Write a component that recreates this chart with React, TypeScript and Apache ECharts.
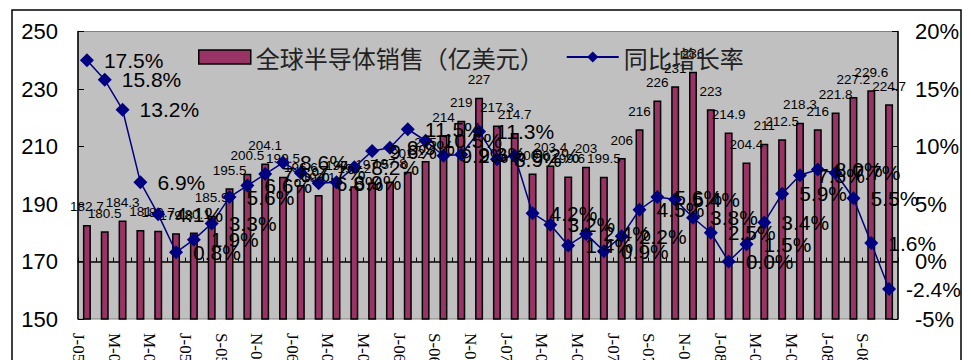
import React, { useEffect, useRef } from "react";
import * as echarts from "echarts";

const CATEGORIES = [
  "J-05", "F-05", "M-05", "A-05", "M-05", "J-05", "J-05", "A-05", "S-05", "O-05", "N-05", "D-05",
  "J-06", "F-06", "M-06", "A-06", "M-06", "J-06", "J-06", "A-06", "S-06", "O-06", "N-06", "D-06",
  "J-07", "F-07", "M-07", "A-07", "M-07", "J-07", "J-07", "A-07", "S-07", "O-07", "N-07", "D-07",
  "J-08", "F-08", "M-08", "A-08", "M-08", "J-08", "J-08", "A-08", "S-08", "O-08",
];

const SALES = [
  182.7, 180.5, 184.3, 181.0, 180.7, 179.8, 180.1, 185.9, 195.5, 200.5, 204.1, 199.5,
  196.6, 193.1, 197.0, 196.2, 197.5, 197.8, 201.2, 205, 214, 219, 227, 217.3,
  214.7, 200.6, 203.4, 199.6, 203, 199.5, 206, 216, 226, 231, 236, 223,
  214.9, 204.4, 211, 212.5, 218.3, 216, 221.8, 227.2, 229.6, 224.7,
];

const GROWTH = [
  17.5, 15.8, 13.2, 6.9, 4.1, 0.8, 1.9, 3.3, 5.6, 6.6, 7.6, 8.6,
  7.7, 6.8, 6.9, 8.2, 9.6, 9.9, 11.5, 10.5, 9.2, 9.3, 11.3, 8.9,
  9.2, 4.2, 3.2, 1.4, 2.4, 0.9, 2.2, 4.5, 5.6, 5.4, 3.8, 2.5,
  0.0, 1.5, 3.4, 5.9, 7.5, 8.0, 7.7, 5.5, 1.6, -2.4,
];

const SALES_NAME = "全球半导体销售（亿美元）";
const GROWTH_NAME = "同比增长率";

const SANS = "'Liberation Sans', Arial, sans-serif";

export default function App() {
  const ref = useRef<HTMLDivElement>(null);

  useEffect(() => {
    if (!ref.current) return;
    const chart = echarts.init(ref.current, null, { renderer: "svg" });
    chart.setOption({
      animation: false,
      backgroundColor: "#ffffff",
      textStyle: { fontFamily: SANS },
      graphic: [
        {
          type: "rect",
          shape: { x: 12, y: 10, width: 949, height: 380 },
          style: { fill: "none", stroke: "#000", lineWidth: 1.5 },
          silent: true,
          z: 100,
        },
      ],
      grid: {
        left: 78,
        right: 73,
        top: 31.5,
        bottom: 41,
        containLabel: false,
        outerBoundsMode: "none",
        show: true,
        backgroundColor: "#C0C0C0",
        borderColor: "#808080",
        borderWidth: 1,
      },
      legend: {
        left: 198,
        top: 45,
        padding: 0,
        itemWidth: 52,
        itemHeight: 14,
        itemGap: 22,
        textStyle: {
          fontSize: 24,
          fontFamily: "'Noto Sans CJK SC', sans-serif",
          color: "#222",
        },
        data: [
          { name: SALES_NAME, icon: "rect", itemStyle: { borderColor: "#000", borderWidth: 1.5 } },
          { name: GROWTH_NAME },
        ],
      },
      xAxis: {
        type: "category",
        data: CATEGORIES,
        boundaryGap: true,
        axisLine: { show: true, lineStyle: { color: "#000", width: 1.5 } },
        axisTick: { show: true, inside: true, length: 4, interval: 0, lineStyle: { color: "#000" } },
        axisLabel: {
          interval: 1,
          rotate: -90,
          margin: 14,
          verticalAlign: "top",
          fontSize: 17,
          fontFamily: "'Liberation Serif', 'Times New Roman', serif",
          color: "#000",
        },
        splitLine: { show: false },
      },
      yAxis: [
        {
          type: "value",
          min: 150,
          max: 250,
          interval: 20,
          axisLine: { show: true, lineStyle: { color: "#000", width: 1.5 } },
          axisTick: { show: true, inside: true, length: 6, lineStyle: { color: "#000" } },
          axisLabel: { fontSize: 22, color: "#000", margin: 20, fontFamily: SANS },
          splitLine: { show: false },
        },
        {
          type: "value",
          min: -5,
          max: 20,
          interval: 5,
          position: "right",
          axisLine: { show: true, lineStyle: { color: "#000", width: 1.5 } },
          axisTick: { show: true, inside: true, length: 6, lineStyle: { color: "#000" } },
          axisLabel: {
            fontSize: 22,
            color: "#000",
            margin: 17,
            fontFamily: SANS,
            formatter: (v: number) => `${v}%`,
          },
          splitLine: { show: false },
        },
      ],
      series: [
        {
          name: SALES_NAME,
          type: "bar",
          data: SALES,
          yAxisIndex: 0,
          barWidth: 8,
          itemStyle: { color: "#993366", borderColor: "#000", borderWidth: 1.5 },
          label: {
            show: true,
            position: "top",
            distance: 11,
            fontSize: 13.5,
            color: "#000",
            fontFamily: SANS,
          },
          z: 2,
        },
        {
          name: GROWTH_NAME,
          type: "line",
          data: GROWTH,
          yAxisIndex: 1,
          symbol: "diamond",
          symbolSize: 14,
          showSymbol: true,
          showAllSymbol: true,
          lineStyle: { color: "#000080", width: 1.5 },
          itemStyle: { color: "#000080" },
          label: {
            show: true,
            position: "right",
            distance: 10,
            fontSize: 21,
            color: "#000",
            fontFamily: SANS,
            formatter: (p: any) => `${Number(p.value).toFixed(1)}%`,
          },
          labelLayout: { hideOverlap: false },
          z: 3,
        },
      ],
    });
    return () => chart.dispose();
  }, []);

  return (
    <div
      ref={ref}
      style={{ position: "fixed", left: 0, top: 0, width: 971, height: 360 }}
    />
  );
}
